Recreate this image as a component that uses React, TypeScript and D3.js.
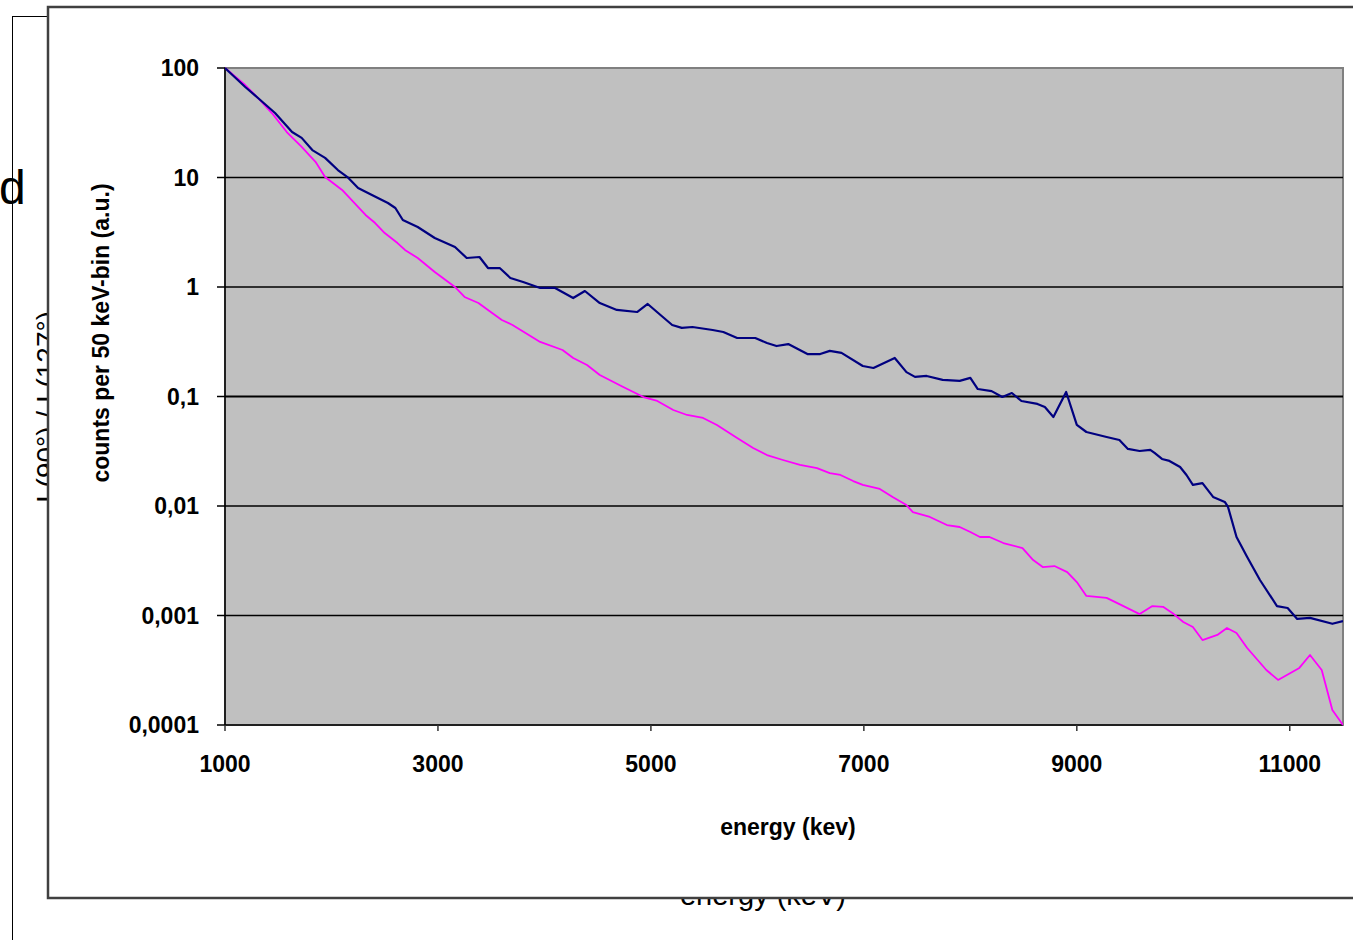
import React from "react";
import * as d3 from "d3";

// ---- data ----
const blueEnergy = [1000,1090,1190,1310,1470,1630,1720,1820,1940,2060,2150,2250,2380,2530,2600,2670,2810,2970,3160,3270,3390,3470,3580,3680,3800,3960,4100,4270,4380,4520,4680,4870,4970,5090,5200,5290,5390,5580,5680,5810,5980,6090,6180,6290,6470,6590,6680,6790,6990,7090,7290,7400,7480,7590,7740,7900,8000,8070,8200,8300,8390,8480,8630,8700,8780,8900,9000,9090,9280,9400,9480,9590,9690,9730,9800,9870,9970,10030,10090,10180,10280,10390,10420,10500,10600,10720,10880,10980,11070,11190,11400,11500];
const blueValue = [100,82.8,67.1,53.2,38.8,26.0,23.0,17.8,15.1,11.7,10.1,8.02,6.92,5.85,5.27,4.09,3.53,2.80,2.32,1.84,1.88,1.49,1.49,1.21,1.11,0.98,0.98,0.793,0.919,0.714,0.617,0.591,0.700,0.555,0.450,0.423,0.431,0.405,0.388,0.342,0.342,0.308,0.289,0.301,0.244,0.244,0.261,0.250,0.190,0.182,0.225,0.167,0.151,0.154,0.142,0.139,0.148,0.117,0.112,0.099,0.1076,0.091,0.0855,0.0802,0.065,0.110,0.055,0.0474,0.0427,0.0401,0.0332,0.0318,0.0325,0.0305,0.0269,0.0258,0.0227,0.0192,0.0156,0.0162,0.0121,0.0109,0.0098,0.00521,0.00342,0.00211,0.00122,0.00117,0.00093,0.00095,0.00084,0.00089];

const magentaEnergy = [1000,1190,1310,1440,1580,1720,1850,1940,2100,2190,2320,2410,2500,2620,2690,2810,2970,3160,3250,3380,3470,3600,3700,3960,4170,4270,4400,4520,4740,4930,5060,5210,5340,5490,5620,5810,5960,6090,6240,6400,6560,6680,6780,6900,6990,7150,7270,7400,7460,7620,7780,7900,8000,8090,8180,8310,8490,8590,8680,8790,8910,9000,9090,9280,9400,9590,9710,9810,9900,10000,10090,10180,10320,10410,10500,10600,10780,10890,11090,11190,11300,11400,11500];
const magentaValue = [100,69.9,53.2,38.8,26.0,19.0,13.9,10.1,7.69,6.23,4.55,3.84,3.11,2.52,2.18,1.84,1.37,1.0,0.811,0.714,0.617,0.500,0.450,0.315,0.266,0.225,0.194,0.157,0.122,0.0989,0.091,0.0753,0.0678,0.0637,0.055,0.0418,0.0339,0.0292,0.0263,0.0237,0.0222,0.020,0.0192,0.0169,0.0156,0.0143,0.0121,0.0102,0.00881,0.00794,0.0067,0.00643,0.00579,0.00521,0.00521,0.00459,0.00413,0.00321,0.00277,0.00283,0.00249,0.00202,0.00151,0.00145,0.00127,0.00103,0.00122,0.0012,0.00105,0.000873,0.000785,0.000597,0.000664,0.000769,0.000692,0.000505,0.000318,0.000258,0.000332,0.000436,0.000318,0.000137,0.0001];

const xTicks = [1000, 3000, 5000, 7000, 9000, 11000];
const yTicks = [100, 10, 1, 0.1, 0.01, 0.001, 0.0001];
const yTickLabels = ["100", "10", "1", "0,1", "0,01", "0,001", "0,0001"];
const xTitle = "energy (kev)";
const yTitle = "counts per 50 keV-bin  (a.u.)";
const bgYTitle = "I (90°) / I (127°)";
const bgXTitle = "energy (keV)";

const FONT = "'Liberation Sans', Arial, Helvetica, sans-serif";

export default function App() {
  const W = 1353, H = 940;
  const left = 225, right = 1343, top = 68, bottom = 725;
  const x = d3.scaleLinear().domain([1000, 11500]).range([left, right]);
  const y = d3.scaleLog().domain([0.0001, 100]).range([bottom, top]);

  const line = d3
    .line<[number, number]>()
    .x((d) => x(d[0]))
    .y((d) => y(Math.max(d[1], 0.0001)));

  const blue = blueEnergy.map((e, i) => [e, blueValue[i]] as [number, number]);
  const mag = magentaEnergy.map((e, i) => [e, magentaValue[i]] as [number, number]);

  return (
    <svg
      width={W}
      height={H}
      style={{ position: "absolute", left: 0, top: 0, display: "block", background: "#fff" }}
    >
      <defs>
        <clipPath id="plotclip">
          <rect x={left} y={top - 1} width={right - left} height={bottom - top + 2} />
        </clipPath>
      </defs>
      {/* background chart remnants */}
      <text x={-1} y={204} fontFamily={FONT} fontSize={48} textAnchor="start" fill="#000">d</text>
      <text
        transform={`translate(56,407) rotate(-90)`}
        fontFamily={FONT}
        fontSize={28}
        textAnchor="middle"
        fill="#000"
      >
        {bgYTitle}
      </text>
      <text x={763} y={905} fontFamily={FONT} fontSize={29} textAnchor="middle" fill="#000">
        {bgXTitle}
      </text>
      <line x1={12.5} y1={16.5} x2={12.5} y2={H} stroke="#000" strokeWidth={1} />
      <line x1={12} y1={16.5} x2={60} y2={16.5} stroke="#000" strokeWidth={1} />

      {/* main chart frame */}
      <rect x={48} y={7} width={1320} height={891} fill="#fff" stroke="#404040" strokeWidth={2.5} />

      {/* plot area */}
      <rect x={left} y={top} width={right - left} height={bottom - top} fill="#C0C0C0" stroke="#808080" strokeWidth={2} />

      {/* gridlines */}
      {yTicks.slice(1, -1).map((t) => (
        <line
          key={t}
          x1={left}
          x2={right}
          y1={y(t)}
          y2={y(t)}
          stroke="#000"
          strokeWidth={t === 0.1 ? 2.2 : 1.5}
        />
      ))}

      {/* axes */}
      <line x1={left} x2={left} y1={top} y2={bottom} stroke="#000" strokeWidth={1.5} />
      <line x1={left} x2={right} y1={bottom} y2={bottom} stroke="#000" strokeWidth={1.5} />

      {/* y ticks */}
      {yTicks.map((t, i) => (
        <g key={t}>
          <line x1={left - 8} x2={left} y1={y(t)} y2={y(t)} stroke="#000" strokeWidth={1.5} />
          <text
            x={199}
            y={y(t) + 8}
            textAnchor="end"
            fontFamily={FONT}
            fontWeight="bold"
            fontSize={23}
            fill="#000"
          >
            {yTickLabels[i]}
          </text>
        </g>
      ))}

      {/* x ticks */}
      {xTicks.map((t) => (
        <g key={t}>
          <line x1={x(t)} x2={x(t)} y1={bottom} y2={bottom + 6} stroke="#333" strokeWidth={1.5} />
          <text
            x={x(t)}
            y={772}
            textAnchor="middle"
            fontFamily={FONT}
            fontWeight="bold"
            fontSize={23}
            fill="#000"
          >
            {t}
          </text>
        </g>
      ))}

      {/* series */}
      <g clipPath="url(#plotclip)">
        <path d={line(mag) || ""} fill="none" stroke="#FF00FF" strokeWidth={1.8} strokeLinejoin="round" />
        <path d={line(blue) || ""} fill="none" stroke="#000080" strokeWidth={2.2} strokeLinejoin="round" />
      </g>

      {/* titles */}
      <text x={788} y={835} textAnchor="middle" fontFamily={FONT} fontWeight="bold" fontSize={23} fill="#000">
        {xTitle}
      </text>
      <text
        transform={`translate(109,333) rotate(-90)`}
        textAnchor="middle"
        fontFamily={FONT}
        fontWeight="bold"
        fontSize={23}
        fill="#000"
      >
        {yTitle}
      </text>
    </svg>
  );
}
